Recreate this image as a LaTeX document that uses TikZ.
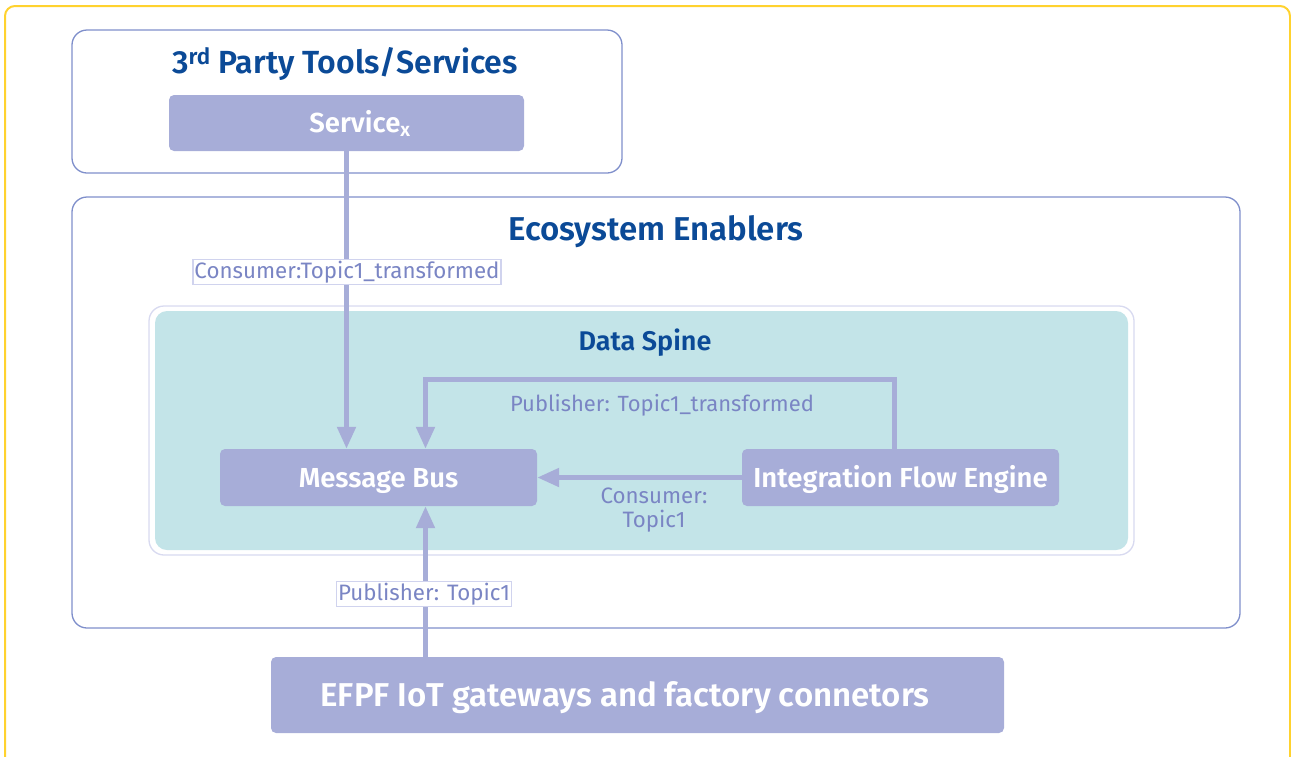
\documentclass[tikz,border=0pt]{standalone}
\usepackage{fontspec}
\setmainfont{Fira Sans}[BoldFont={Fira Sans SemiBold}]
\usepackage{tikz}
\usetikzlibrary{arrows.meta,
    positioning}

\definecolor{boxfill}{HTML}{A7ADD8}
\definecolor{frameline}{HTML}{7F8FCB}
\definecolor{titleblue}{HTML}{0B4A97}
\definecolor{tagtext}{HTML}{7A85C4}
\definecolor{tagline}{HTML}{D0D3EE}
\definecolor{spinefill}{HTML}{C3E4E8}
\definecolor{spineline}{HTML}{D8DAF0}
\definecolor{outeryellow}{HTML}{FFD22E}

\begin{document}
\begin{tikzpicture}[x=1pt,y=-1pt,
    block/.style={fill=boxfill,rounded corners=5pt,text=white,
        text height=19pt,text depth=0pt,
        font=\fontsize{27.5}{31}\selectfont\bfseries},
    grouptitle/.style={text=titleblue,font=\fontsize{33}{37}\selectfont\bfseries},
    tag/.style={fill=white,draw=tagline,line width=1.2pt,text=tagtext,
        inner sep=1.5pt,font=\fontsize{22.3}{25}\selectfont},
    flow/.style={draw=boxfill,line width=5pt,
        -{Triangle[length=22pt,width=18pt]}}]
                  \useasboundingbox (0,0) rectangle (1291,756);
                  \draw[outeryellow,line width=2pt,rounded corners=10pt] (5,6) rectangle (1290,780);
                  % groups
                  \draw[frameline,line width=1.3pt,rounded corners=15pt] (72,30) rectangle (622,173);
                  \draw[frameline,line width=1.3pt,rounded corners=15pt] (72,197) rectangle (1240,628);
                  \draw[spineline,fill=white,line width=1.3pt,rounded corners=15pt] (149,306) rectangle (1134,555);
                  \fill[spinefill,rounded corners=12pt] (155,311) rectangle (1128,550);
                  \node[grouptitle,font=\fontsize{32}{36}\selectfont\bfseries] (party) at (345,64) {3\textsuperscript{rd} Party Tools/Services};
                  \node[grouptitle] (eco) at (656,232) {Ecosystem Enablers};
                  \node[grouptitle,font=\fontsize{27}{31}\selectfont\bfseries] (spine) at (645,343) {Data Spine};
                  % blocks
                  \node[block,minimum width=355pt,minimum height=56pt] (service) at (346.5,123) {\mbox{}\hspace{27pt}Service\textsubscript{x}};
                  \node[block,minimum width=317pt,minimum height=57pt] (bus) at (378.5,477.5) {Message Bus};
                  \node[block,minimum width=317pt,minimum height=57pt] (ife) at (900.5,477.5) {Integration Flow Engine};
                  \node[block,minimum width=733pt,minimum height=76pt,text height=23pt,
                      font=\fontsize{33}{37}\selectfont\bfseries] (gw) at (637.5,695) {EFPF IoT gateways and factory connetors\hspace{25pt}\mbox{}};
                  % flows
                  \coordinate (bin) at ([xshift=47]bus.south);
                  \draw[flow] (service.south) -- (service.south |- bus.north);
                  \draw[flow] ([xshift=-6]ife.north) -- ++(0,-69) -| ([xshift=47]bus.north);
                  \draw[flow] (ife.west) -- (bus.east);
                  \draw[flow] (bin |- gw.north) -- (bin);
                  % tags
                  \node[tag] (consx) at (347,272) {Consumer:Topic1\_transformed};
                  \node[tag,fill=none,draw=none,font=\fontsize{22}{25}\selectfont] (pubx) at (662,405) {Publisher: Topic1\_transformed};
                  \node[tag,fill=none,draw=none,align=center,font=\fontsize{22.3}{24}\selectfont] (cons) at (654,510) {Consumer:\\Topic1};
                  \node[tag] (pub) at (424,594) {Publisher: Topic1};
              \end{tikzpicture}
\end{document}
